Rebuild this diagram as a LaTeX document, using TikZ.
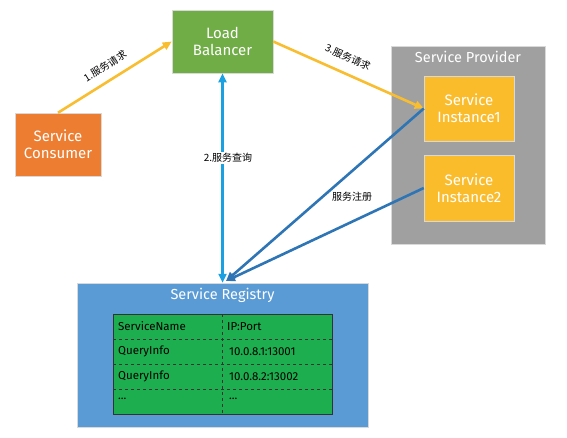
\documentclass[tikz,border=0pt]{standalone}
\usepackage{fontspec}
\setmainfont{Fira Sans}
\newfontfamily\cjk{Noto Sans CJK SC}
\usetikzlibrary{arrows.meta}

\definecolor{lbgreen}{HTML}{70AD47}
\definecolor{consorange}{HTML}{ED7D31}
\definecolor{provgray}{HTML}{A0A0A0}
\definecolor{instyellow}{HTML}{FBBC2C}
\definecolor{regblue}{HTML}{5B9BD5}
\definecolor{tblgreen}{HTML}{1DAF4F}
\definecolor{reqorange}{HTML}{F9BD30}
\definecolor{qryblue}{HTML}{1BA1E2}
\definecolor{regline}{HTML}{2E75B6}

\tikzset{every picture/.style={line width=0.75pt}}
\tikzset{
  box/.style={draw=white!85!black, line width=0.5pt, text=white, align=center, font=\fontsize{15}{17}\selectfont, inner sep=0pt},
  cell/.style={anchor=west, inner sep=0.75pt, font=\fontsize{11.5}{13}\selectfont},
  lbl/.style={inner sep=1pt, text=black, font=\cjk\fontsize{10}{12}\selectfont},
  tip/.style={-{Triangle[length=9pt,width=8pt]}, line width=2.6pt}
}

\begin{document}
\begin{tikzpicture}[x=1pt,y=1pt,yscale=-1]
\useasboundingbox (0,0) rectangle (567,437);

% Boxes
\node[box, fill=lbgreen, minimum width=101pt, minimum height=63pt] (lb) at (222.5,41.5) {Load\\Balancer};
\node[box, fill=consorange, minimum width=86pt, minimum height=63pt] (cons) at (58,144.5) {Service\\Consumer};
\node[box, fill=provgray, minimum width=154pt, minimum height=198pt] (prov) at (468,145) {};
\node[text=white, inner sep=0.75pt, font=\fontsize{14.5}{16}\selectfont] (provt) at (468,57) {Service Provider};
\node[box, fill=instyellow, minimum width=90pt, minimum height=65pt] (inst1) at (469,108.5) {Service\\Instance1};
\node[box, fill=instyellow, minimum width=90pt, minimum height=66pt] (inst2) at (469,188) {Service\\Instance2};
\node[box, fill=regblue, minimum width=291pt, minimum height=144pt] (reg) at (222.5,355) {};
\node[text=white, inner sep=0.75pt, font=\fontsize{14.5}{16}\selectfont] (regt) at (222.5,295) {Service Registry};

% Table
\node[draw=black!80, fill=tblgreen, minimum width=219pt, minimum height=100pt, inner sep=0pt] (tbl) at (222.5,364) {};
\draw[dashed, black!80, line width=0.6pt] (222,314) -- (222,414);
\foreach \y in {339,364,389}
  \draw[dashed, black!80, line width=0.6pt] (113,\y) -- (332,\y);
\node[cell] (c11) at (117,326.5) {ServiceName};
\node[cell] (c12) at (226,326.5) {IP:Port};
\node[cell] (c21) at (117,351.5) {QueryInfo};
\node[cell] (c22) at (228,351.5) {10.0.8.1:13001};
\node[cell] (c31) at (117,376.5) {QueryInfo};
\node[cell] (c32) at (228,376.5) {10.0.8.2:13002};
\node[cell] (c41) at (117,399) {...};
\node[cell] (c42) at (228,399) {...};

% Connectors
\coordinate (regtop) at (226,281);
\draw[tip, reqorange] (cons.north) -- (lb.west);
\node[lbl, rotate=32] (req1) at (105,66) {1.服务请求};
\draw[tip, reqorange] (lb.east) -- (inst1.west);
\node[lbl, rotate=-24] (req3) at (348,57) {3.服务请求};
\draw[tip, {Triangle[length=9pt,width=8pt]}-{Triangle[length=9pt,width=8pt]}, qryblue] (lb.south) -- (reg.north);
\node[lbl, fill=white] (q) at (228,158) {2.服务查询};
\draw[tip, regline] (inst1.west) -- (regtop);
\draw[tip, regline] (inst2.west) -- (regtop);
\node[lbl] (r) at (352,197) {服务注册};

\end{tikzpicture}
\end{document}
